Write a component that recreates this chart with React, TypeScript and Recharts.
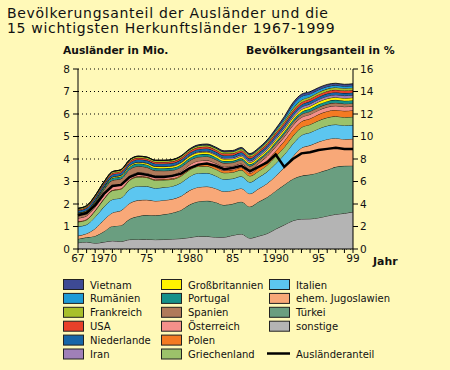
import React from "react";
import { ComposedChart, Area, Line, XAxis, YAxis, CartesianGrid } from "recharts";

const years = [1967,1968,1969,1970,1971,1972,1973,1974,1975,1976,1977,1978,1979,1980,1981,1982,1983,1984,1985,1986,1987,1988,1989,1990,1991,1992,1993,1994,1995,1996,1997,1998,1999];

const yearLabels: Record<number, string> = { 1967: "67", 1970: "1970", 1975: "75", 1980: "1980", 1985: "85", 1990: "1990", 1995: "95", 1999: "99" };

const leftTicks = [0,1,2,3,4,5,6,7,8];
const rightTicks = [0,2,4,6,8,10,12,14,16];

// millions
const sonstige = [0.278,0.313,0.259,0.308,0.363,0.338,0.419,0.427,0.430,0.416,0.422,0.445,0.465,0.512,0.564,0.563,0.527,0.530,0.608,0.669,0.482,0.574,0.687,0.888,1.074,1.259,1.334,1.341,1.389,1.471,1.545,1.585,1.651];
const tuerkei = [0.172,0.205,0.322,0.469,0.653,0.712,0.910,1.028,1.077,1.079,1.118,1.165,1.268,1.462,1.546,1.580,1.553,1.425,1.401,1.434,1.400,1.524,1.613,1.695,1.780,1.855,1.918,1.966,2.014,2.049,2.107,2.110,2.054];
const jugoslawien = [0.140,0.169,0.331,0.515,0.595,0.660,0.702,0.708,0.678,0.640,0.630,0.610,0.620,0.632,0.637,0.632,0.612,0.600,0.591,0.591,0.575,0.579,0.611,0.662,0.775,1.000,1.240,1.300,1.360,1.360,1.275,1.185,1.190];
const italien = [0.413,0.399,0.515,0.574,0.590,0.560,0.622,0.630,0.601,0.568,0.571,0.572,0.595,0.618,0.625,0.601,0.565,0.545,0.531,0.537,0.510,0.508,0.520,0.552,0.561,0.558,0.563,0.571,0.586,0.599,0.607,0.612,0.616];
const griechenland = [0.201,0.212,0.271,0.343,0.395,0.390,0.399,0.406,0.390,0.353,0.328,0.306,0.297,0.298,0.299,0.301,0.292,0.287,0.281,0.279,0.279,0.274,0.294,0.320,0.336,0.346,0.352,0.356,0.360,0.362,0.363,0.364,0.364];
const polen = [0.025,0.025,0.025,0.025,0.026,0.027,0.028,0.030,0.032,0.035,0.038,0.042,0.048,0.055,0.070,0.090,0.095,0.100,0.105,0.116,0.120,0.172,0.220,0.241,0.271,0.286,0.260,0.263,0.277,0.283,0.283,0.283,0.292];
const oesterreich = [0.145,0.150,0.147,0.150,0.160,0.165,0.170,0.175,0.175,0.174,0.172,0.172,0.173,0.172,0.174,0.175,0.174,0.172,0.172,0.174,0.171,0.171,0.173,0.183,0.187,0.186,0.186,0.186,0.185,0.185,0.185,0.186,0.186];
const spanien = [0.177,0.175,0.207,0.246,0.270,0.268,0.287,0.272,0.248,0.219,0.201,0.189,0.182,0.180,0.177,0.173,0.166,0.159,0.152,0.150,0.147,0.127,0.127,0.135,0.136,0.134,0.133,0.133,0.132,0.132,0.132,0.131,0.130];
const portugal = [0.025,0.030,0.045,0.075,0.100,0.105,0.112,0.121,0.118,0.115,0.110,0.110,0.109,0.112,0.109,0.106,0.099,0.090,0.077,0.078,0.079,0.071,0.075,0.085,0.092,0.099,0.105,0.118,0.125,0.130,0.132,0.132,0.132];
const grossbritannien = [0.030,0.033,0.037,0.040,0.045,0.050,0.055,0.060,0.065,0.068,0.072,0.076,0.080,0.088,0.090,0.092,0.091,0.089,0.087,0.088,0.084,0.085,0.089,0.096,0.106,0.108,0.110,0.112,0.113,0.113,0.113,0.113,0.113];
const iran = [0.008,0.009,0.010,0.011,0.012,0.013,0.014,0.015,0.017,0.019,0.021,0.024,0.028,0.033,0.038,0.043,0.047,0.051,0.055,0.070,0.072,0.078,0.085,0.092,0.097,0.099,0.102,0.105,0.107,0.110,0.113,0.116,0.116];
const niederlande = [0.095,0.098,0.100,0.102,0.104,0.106,0.108,0.110,0.110,0.108,0.108,0.108,0.108,0.108,0.108,0.110,0.109,0.108,0.108,0.109,0.104,0.101,0.103,0.111,0.112,0.113,0.113,0.113,0.113,0.113,0.113,0.112,0.110];
const usa = [0.050,0.052,0.055,0.058,0.062,0.066,0.070,0.072,0.074,0.076,0.077,0.078,0.080,0.082,0.084,0.086,0.086,0.086,0.086,0.088,0.085,0.085,0.088,0.092,0.099,0.104,0.106,0.107,0.108,0.108,0.109,0.110,0.111];
const frankreich = [0.045,0.048,0.050,0.053,0.056,0.058,0.060,0.062,0.063,0.064,0.065,0.066,0.067,0.068,0.070,0.072,0.073,0.074,0.075,0.076,0.075,0.075,0.079,0.085,0.090,0.094,0.097,0.098,0.100,0.103,0.104,0.106,0.107];
const rumaenien = [0.005,0.005,0.006,0.007,0.007,0.008,0.009,0.010,0.010,0.011,0.011,0.012,0.012,0.013,0.014,0.015,0.016,0.017,0.018,0.021,0.025,0.032,0.048,0.060,0.092,0.167,0.162,0.125,0.109,0.101,0.096,0.090,0.087];
const vietnam = [0.001,0.001,0.001,0.001,0.001,0.001,0.001,0.001,0.002,0.003,0.004,0.006,0.012,0.020,0.025,0.028,0.030,0.031,0.032,0.033,0.033,0.033,0.034,0.046,0.074,0.088,0.097,0.097,0.096,0.095,0.089,0.085,0.085];

// percent
const auslaenderanteil = [3.0,3.2,3.9,4.9,5.6,5.7,6.4,6.7,6.6,6.4,6.4,6.5,6.7,7.2,7.5,7.6,7.4,7.1,7.2,7.4,6.9,7.3,7.7,8.4,7.3,8.0,8.5,8.6,8.8,8.9,9.0,8.9,8.9];

// stacking order bottom -> top
const series = [
  { key: "sonstige", name: "sonstige", color: "#b4b4b4", values: sonstige },
  { key: "tuerkei", name: "Türkei", color: "#6a9e80", values: tuerkei },
  { key: "jugoslawien", name: "ehem. Jugoslawien", color: "#f8a878", values: jugoslawien },
  { key: "italien", name: "Italien", color: "#5cc6f0", values: italien },
  { key: "griechenland", name: "Griechenland", color: "#9cc26a", values: griechenland },
  { key: "polen", name: "Polen", color: "#f47a22", values: polen },
  { key: "oesterreich", name: "Österreich", color: "#f4908a", values: oesterreich },
  { key: "spanien", name: "Spanien", color: "#b07a5a", values: spanien },
  { key: "portugal", name: "Portugal", color: "#14918a", values: portugal },
  { key: "grossbritannien", name: "Großbritannien", color: "#fff200", values: grossbritannien },
  { key: "iran", name: "Iran", color: "#a080b8", values: iran },
  { key: "niederlande", name: "Niederlande", color: "#1766a8", values: niederlande },
  { key: "usa", name: "USA", color: "#e8402a", values: usa },
  { key: "frankreich", name: "Frankreich", color: "#a8c02a", values: frankreich },
  { key: "rumaenien", name: "Rumänien", color: "#1e9bd7", values: rumaenien },
  { key: "vietnam", name: "Vietnam", color: "#3e4a94", values: vietnam },
];

const legendColumns = [
  ["vietnam", "rumaenien", "frankreich", "usa", "niederlande", "iran"],
  ["grossbritannien", "portugal", "spanien", "oesterreich", "polen", "griechenland"],
  ["italien", "jugoslawien", "tuerkei", "sonstige"],
];

const data = years.map((y, i) => {
  const row: Record<string, number> = { year: y, anteil: auslaenderanteil[i] };
  series.forEach((s) => { row[s.key] = s.values[i]; });
  return row;
});

const FONT = "'DejaVu Sans', Verdana, sans-serif";
const BG = "#fff9b8";

const txt = (x: number, y: number, s: string, size: number, weight: string | number = "normal", extra: React.CSSProperties = {}) => (
  <div style={{ position: "absolute", left: x, top: y, fontFamily: FONT, fontSize: size, fontWeight: weight as any, color: "#111", whiteSpace: "nowrap", lineHeight: 1, ...extra }}>{s}</div>
);

export default function App() {
  const colX = [63, 161, 269];
  const rowY = (r: number) => 279 + r * 13.9;
  const byKey: Record<string, typeof series[number]> = {};
  series.forEach((s) => { byKey[s.key] = s; });
  return (
    <div style={{ position: "absolute", left: 0, top: 0, width: 450, height: 370, background: BG, overflow: "hidden" }}>
      {txt(7, 6, "Bevölkerungsanteil der Ausländer und die", 14, 500, { letterSpacing: 0.7, lineHeight: "14px", height: 14 })}
      {txt(7, 21, "15 wichtigsten Herkunftsländer 1967-1999", 14, 500, { letterSpacing: 0.7, lineHeight: "14px", height: 14 })}
      {txt(63, 46, "Ausländer in Mio.", 10.7, "bold")}
      {txt(246, 46, "Bevölkerungsanteil in %", 10.9, "bold")}
      {txt(373, 257, "Jahr", 10.9, "bold")}
      <div style={{ position: "absolute", left: 0, top: 0 }}>
        <ComposedChart width={450} height={370} data={data} margin={{ top: 69, right: 0, bottom: 91, left: 0 }}>
          <CartesianGrid yAxisId="left" horizontal={true} vertical={false} stroke="#000" strokeDasharray="1 3" horizontalValues={leftTicks} />
          <XAxis dataKey="year" type="number" domain={[1967, 1999]} ticks={years} interval={0}
            tickFormatter={(v: number) => yearLabels[v] ?? ""} height={30}
            tick={{ fill: "#111", fontSize: 10.5, fontFamily: FONT }} tickSize={4} tickMargin={2}
            axisLine={{ stroke: "#000" }} tickLine={{ stroke: "#000" }} />
          <YAxis yAxisId="left" domain={[0, 8]} ticks={leftTicks} width={78} interval={0}
            tick={{ fill: "#111", fontSize: 10.5, fontFamily: FONT }} tickSize={5} tickMargin={3}
            axisLine={{ stroke: "#000" }} tickLine={{ stroke: "#000" }} />
          <YAxis yAxisId="right" orientation="right" domain={[0, 16]} ticks={rightTicks} width={97} interval={0}
            tick={{ fill: "#111", fontSize: 10.5, fontFamily: FONT }} tickSize={5} tickMargin={2}
            axisLine={{ stroke: "#000" }} tickLine={{ stroke: "#000" }} />
          {series.map((s) => (
            <Area key={s.key} yAxisId="left" dataKey={s.key} name={s.name} stackId="a" type="monotone"
              fill={s.color} fillOpacity={1} stroke="#000" strokeWidth={0.8} isAnimationActive={false} dot={false} activeDot={false} />
          ))}
          <Line yAxisId="right" dataKey="anteil" name="Ausländeranteil" type="linear" stroke="#000" strokeWidth={2.5}
            dot={false} activeDot={false} isAnimationActive={false} />
        </ComposedChart>
      </div>
      <svg style={{ position: "absolute", left: 0, top: 0 }} width={450} height={370}>
        {legendColumns.map((col, ci) =>
          col.map((k, ri) => {
            const s = byKey[k];
            const y = rowY(ri);
            return (
              <g key={k}>
                <rect x={colX[ci] + 0.5} y={y + 0.5} width={20} height={10} fill={s.color} stroke="#222" strokeWidth={1} />
                <text x={colX[ci] + 27} y={y + 9.5} fontFamily={FONT} fontSize={10} fill="#111">{s.name}</text>
              </g>
            );
          })
        )}
        <line x1={267} x2={290} y1={rowY(5) + 5} y2={rowY(5) + 5} stroke="#000" strokeWidth={2.5} />
        <text x={296} y={rowY(5) + 9.5} fontFamily={FONT} fontSize={10} fill="#111">Ausländeranteil</text>
      </svg>
    </div>
  );
}
